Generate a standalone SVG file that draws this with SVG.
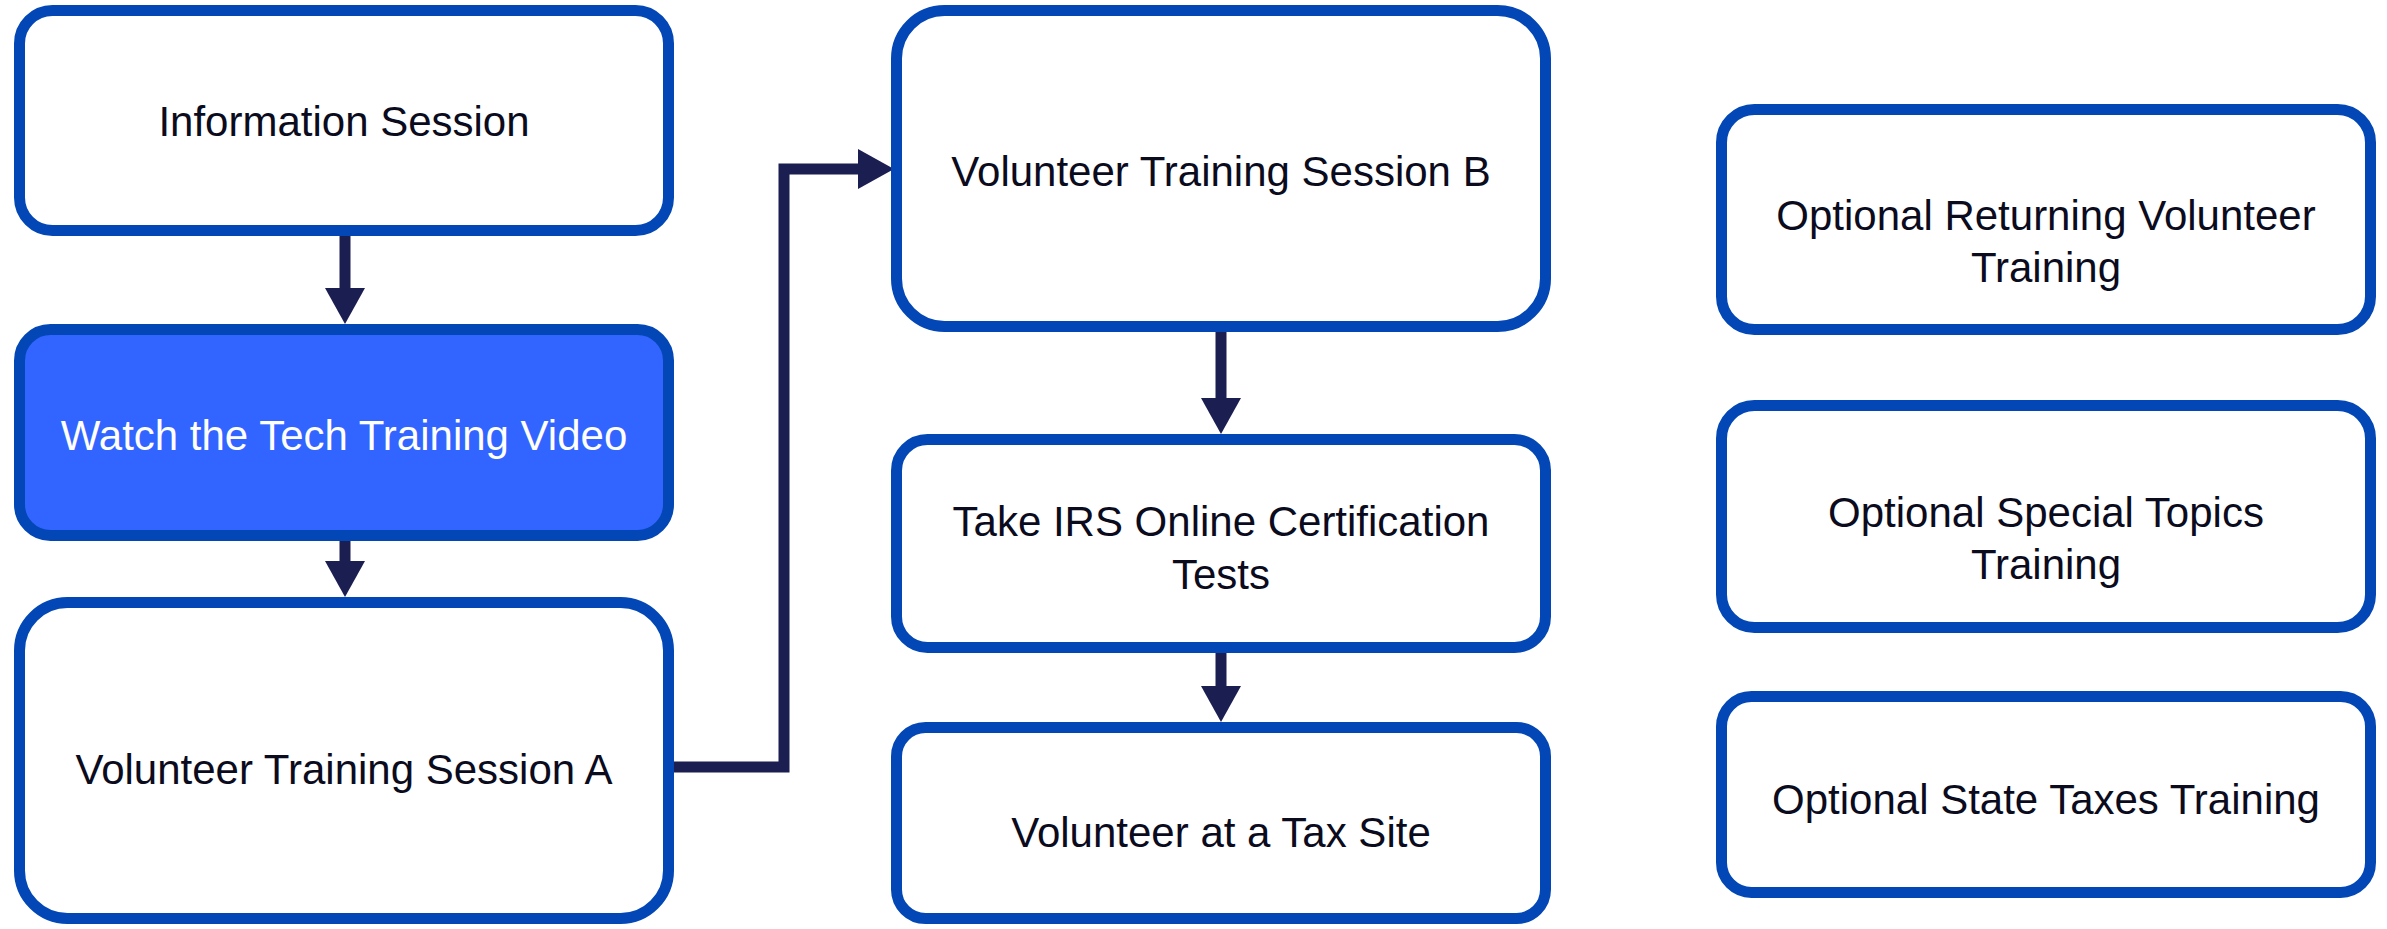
<svg xmlns="http://www.w3.org/2000/svg" width="2387" height="929" viewBox="0 0 2387 929">
<style>
.box{fill:#ffffff;stroke:#0247b5;stroke-width:11}
.hl{fill:#3264ff}
.t{font-family:"Liberation Sans",Arial,sans-serif;font-size:42px;fill:#0b0b1e;text-anchor:middle}
.tw{fill:#ffffff}
.c{fill:none;stroke:#1b1e50;stroke-width:11;stroke-linejoin:miter;marker-end:url(#ah)}
</style>
<defs>
<marker id="ah" markerUnits="userSpaceOnUse" markerWidth="40" markerHeight="40" refX="0" refY="20" orient="auto" viewBox="0 0 36 40">
<path d="M0,0 L36,20 L0,40 z" fill="#1b1e50"/>
</marker>
</defs>
<rect width="2387" height="929" fill="#ffffff"/>
<g id="connectors">
<path class="c" d="M345 236 V288"/>
<path class="c" d="M345 541 V561"/>
<path class="c" d="M674 767 H784 V169 H858"/>
<path class="c" d="M1221 332 V398"/>
<path class="c" d="M1221 653 V686"/>
</g>
<g id="info-session">
<rect class="box" x="19.5" y="10.5" width="649" height="220" rx="33"/>
<text class="t" x="344" y="136">Information Session</text>
</g>
<g id="tech-video">
<rect class="box hl" x="19.5" y="329.5" width="649" height="206" rx="31"/>
<text class="t tw" x="344" y="450">Watch the Tech Training Video</text>
</g>
<g id="session-a">
<rect class="box" x="19.5" y="602.5" width="649" height="316" rx="48"/>
<text class="t" x="344" y="784">Volunteer Training Session A</text>
</g>
<g id="session-b">
<rect class="box" x="896.5" y="10.5" width="649" height="316" rx="48"/>
<text class="t" x="1221" y="186">Volunteer Training Session B</text>
</g>
<g id="irs-tests">
<rect class="box" x="896.5" y="439.5" width="649" height="208" rx="31"/>
<text class="t" x="1221" y="536">Take IRS Online Certification</text>
<text class="t" x="1221" y="589">Tests</text>
</g>
<g id="tax-site">
<rect class="box" x="896.5" y="727.5" width="649" height="191" rx="29"/>
<text class="t" x="1221" y="847">Volunteer at a Tax Site</text>
</g>
<g id="returning">
<rect class="box" x="1721.5" y="109.5" width="649" height="220" rx="33"/>
<text class="t" x="2046" y="230">Optional Returning Volunteer</text>
<text class="t" x="2046" y="282">Training</text>
</g>
<g id="special-topics">
<rect class="box" x="1721.5" y="405.5" width="649" height="222" rx="33"/>
<text class="t" x="2046" y="527">Optional Special Topics</text>
<text class="t" x="2046" y="579">Training</text>
</g>
<g id="state-taxes">
<rect class="box" x="1721.5" y="696.5" width="649" height="196" rx="30"/>
<text class="t" x="2046" y="814">Optional State Taxes Training</text>
</g>
</svg>
